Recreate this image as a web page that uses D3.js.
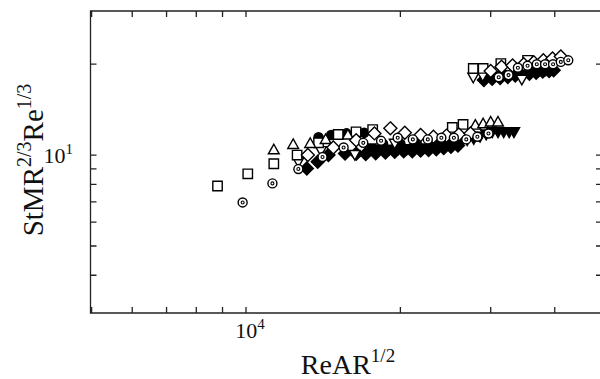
<!DOCTYPE html>
<html>
<head>
<meta charset="utf-8">
<script src="https://cdn.jsdelivr.net/npm/d3@7"></script>
<style>
  body { margin: 0; background: #fff; }
  text { font-family: "Liberation Serif", "Times New Roman", serif; fill: #111; }
</style>
</head>
<body>
<svg id="chart" width="600" height="379"></svg>
<script>
// values: [ReAR^1/2, StMR^2/3 Re^1/3]
const openSquare = [[8800, 7.9], [10080, 8.67], [11330, 9.36], [12580, 10.0], [13850, 10.98], [15130, 11.7],
  [16390, 11.94], [17660, 12.15], [25250, 12.35], [26500, 12.63],
  [27740, 19.37], [29000, 19.37], [31400, 20.1], [35400, 20.6]];
const bullseye = [[9850, 6.97], [11260, 8.06], [12650, 8.99], [14100, 9.85], [15500, 10.6], [16930, 10.98],
  [18340, 11.15], [19760, 11.41], [21150, 11.27], [22620, 11.27], [24040, 11.41], [25430, 11.41],
  [26890, 11.27], [28260, 11.5], [29700, 11.79],
  [31100, 18.1], [32500, 18.4], [33900, 19.47], [35400, 19.76], [36900, 20.0], [38300, 20.0],
  [39700, 20.0], [41100, 20.35], [42500, 20.6]];
const openTriUp = [[11330, 10.36], [12360, 10.79], [13340, 10.87], [14300, 11.2], [15800, 11.6],
  [28000, 12.5], [29000, 12.63], [30000, 12.8], [31000, 12.8]];
const openTriDown = [[12650, 9.55], [14000, 10.4], [16300, 10.1], [19500, 11.0],
  [27740, 18.2], [28950, 18.4], [34500, 17.9]];
const openDiamond = [[13200, 10.0], [14800, 10.6], [16400, 11.2], [17800, 11.8], [19120, 12.26], [20400, 11.85],
  [21900, 11.65], [23200, 11.5], [24600, 11.6], [26000, 11.7], [27400, 11.8],
  [30000, 19.0], [31500, 19.6], [33100, 19.8], [34800, 20.0], [36400, 20.3], [38000, 20.6],
  [39600, 20.9], [41100, 21.2]];
const filledCircle = [[13850, 11.45], [14660, 11.65], [15700, 11.8], [17000, 11.85],
  [18500, 10.9], [20000, 10.9], [21500, 11.0], [23000, 11.0], [24500, 11.15], [26000, 11.3]];
const filledDiamond = [[13140, 9.03], [13800, 9.5], [14480, 10.0], [15600, 10.13], [16400, 10.1], [17120, 10.08],
  [17900, 10.15], [18700, 10.2], [19500, 10.25], [20300, 10.3], [21100, 10.3], [21900, 10.35],
  [22700, 10.4], [23500, 10.45], [24300, 10.55], [25100, 10.65], [25900, 10.75],
  [29100, 17.72], [30200, 17.9], [31300, 18.0], [32400, 18.15], [33500, 18.35], [34600, 18.5],
  [35700, 18.6], [36800, 18.75], [37900, 18.9], [39000, 19.0], [39800, 19.1]];
const filledTriDown = [[17500, 10.6], [18200, 10.5], [19000, 10.5], [19800, 10.55], [20600, 10.55], [21400, 10.6],
  [22200, 10.6], [23000, 10.7], [23800, 10.8], [24600, 10.9], [25400, 11.0], [26200, 11.1],
  [27000, 11.3], [27800, 11.4], [28600, 11.6], [29400, 11.8], [30200, 12.0], [31000, 12.0],
  [31800, 12.0], [32600, 12.0], [33300, 12.0],
  [30000, 18.2], [31200, 18.4], [32400, 18.55], [33600, 18.7], [34800, 18.9], [36000, 19.0],
  [37200, 19.1], [38400, 19.25]];

const xTicks = [5000, 6000, 7000, 8000, 9000, 10000, 20000, 30000, 40000];
const yTicks = [4, 5, 6, 7, 8, 9, 10, 20];

const svg = d3.select('#chart');
const pLeft = 90.5, pRight = 602, pTop = 11, pBottom = 313;

const x = d3.scaleLog().domain([4975, 49450]).range([pLeft, pRight]);
const y = d3.scaleLog().domain([3, 30]).range([pBottom, pTop]);

// marker shapes centred on 0,0
const shapes = {
  square: h => `M${-h},${-h}h${2 * h}v${2 * h}h${-2 * h}Z`,
  triUp: h => `M0,${-h * 1.15}L${h},${h * 0.62}L${-h},${h * 0.62}Z`,
  triDown: h => `M0,${h * 1.15}L${h},${-h * 0.62}L${-h},${-h * 0.62}Z`,
  diamond: h => `M0,${-h}L${h},0L0,${h}L${-h},0Z`,
  circle: h => `M${h},0A${h},${h} 0 1,1 ${-h},0A${h},${h} 0 1,1 ${h},0Z`
};

const series = [
  { data: filledCircle, shape: 'circle', size: 4.6, fill: '#000' },
  { data: filledDiamond, shape: 'diamond', size: 6.5, fill: '#000' },
  { data: filledTriDown, shape: 'triDown', size: 5.6, fill: '#000' },
  { data: openTriDown, shape: 'triDown', size: 5.4, fill: '#fff' },
  { data: openSquare, shape: 'square', size: 4.7, fill: '#fff' },
  { data: openTriUp, shape: 'triUp', size: 5.4, fill: '#fff' },
  { data: openDiamond, shape: 'diamond', size: 6.5, fill: '#fff' },
  { data: bullseye, shape: 'circle', size: 4.5, fill: '#fff', dot: true }
];

const plot = svg.append('g');
series.forEach(s => {
  const g = plot.append('g').selectAll('g')
    .data(s.data)
    .enter()
    .append('g')
    .attr('transform', d => `translate(${x(d[0])},${y(d[1])})`);
  g.append('path')
    .attr('d', shapes[s.shape](s.size))
    .attr('fill', s.fill)
    .attr('stroke', '#000')
    .attr('stroke-width', 1.4);
  if (s.dot) {
    g.append('circle').attr('r', 1.5).attr('fill', 'none').attr('stroke', '#000').attr('stroke-width', 1.1);
  }
});

// frame with inward ticks on all sides
const frame = svg.append('g').attr('stroke', '#222').attr('stroke-width', 1.3).attr('fill', 'none');
frame.append('path').attr('d', `M${pRight},${pTop}H${pLeft}V${pBottom}H${pRight}`);
const tl = 6;
frame.selectAll('.xt').data(xTicks).enter().append('path')
  .attr('d', d => `M${x(d)},${pBottom}v${-tl}M${x(d)},${pTop}v${tl}`);
frame.selectAll('.yt').data(yTicks).enter().append('path')
  .attr('d', d => `M${pLeft},${y(d)}h${tl}M${pRight},${y(d)}h${-tl}`);

// tick labels
const xl = svg.append('text').attr('x', x(10000) + 4).attr('y', 338).attr('text-anchor', 'middle').style('font-size', '22px');
xl.append('tspan').text('10');
xl.append('tspan').attr('dy', -9).style('font-size', '15px').text('4');

const yl = svg.append('text').attr('x', 73).attr('y', y(10) + 8).attr('text-anchor', 'end').style('font-size', '22px');
yl.append('tspan').text('10');
yl.append('tspan').attr('dy', -9).style('font-size', '15px').text('1');

// axis titles
const xt = svg.append('text').attr('x', 348).attr('y', 374).attr('text-anchor', 'middle').style('font-size', '28px');
xt.append('tspan').text('ReAR');
xt.append('tspan').attr('dy', -12).style('font-size', '19px').text('1/2');

const yt = svg.append('text').attr('transform', 'translate(43,160) rotate(-90)').attr('text-anchor', 'middle').style('font-size', '29px');
yt.append('tspan').text('StMR');
yt.append('tspan').attr('dy', -12).style('font-size', '20px').text('2/3');
yt.append('tspan').attr('dy', 12).text('Re');
yt.append('tspan').attr('dy', -12).style('font-size', '20px').text('1/3');
</script>
</body>
</html>
